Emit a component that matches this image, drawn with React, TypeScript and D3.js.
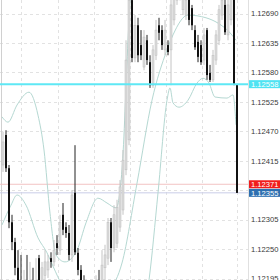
import React from 'react';
import * as d3 from 'd3';

const opens = [1.12407,1.12463,1.12401,1.12300,1.12263,1.12215,1.12164,1.12136,1.12155,1.12127,1.12164,1.12155,1.12233,1.12183,1.12201,1.12211,1.12233,1.12226,1.12261,1.12248,1.12314,1.12291,1.12280,1.12239,1.12355,1.12243,1.12211,1.12173,1.12155,1.12173,1.12145,1.12155,1.12183,1.12164,1.12215,1.12233,1.12300,1.12252,1.12261,1.12291,1.12323,1.12398,1.12454,1.12715,1.12607,1.12668,1.12631,1.12590,1.12640,1.12599,1.12556,1.12612,1.12668,1.12659,1.12622,1.12631,1.12622,1.12678,1.12715,1.12743,1.12697,1.12687,1.12725,1.12700,1.12659,1.12637,1.12631,1.12603,1.12659,1.12579,1.12566,1.12603,1.12640,1.12687,1.12706,1.12650,1.12678,1.12734,1.12558];
const highs = [1.12469,1.12472,1.12407,1.12314,1.12271,1.12248,1.12239,1.12211,1.12239,1.12226,1.12215,1.12233,1.12239,1.12226,1.12248,1.12239,1.12244,1.12267,1.12276,1.12314,1.12336,1.12300,1.12295,1.12360,1.12444,1.12252,1.12220,1.12201,1.12192,1.12188,1.12183,1.12201,1.12211,1.12248,1.12258,1.12308,1.12308,1.12332,1.12342,1.12379,1.12435,1.12640,1.12734,1.12734,1.12687,1.12682,1.12659,1.12659,1.12650,1.12612,1.12631,1.12678,1.12682,1.12668,1.12678,1.12640,1.12725,1.12753,1.12753,1.12753,1.12743,1.12725,1.12734,1.12706,1.12668,1.12650,1.12640,1.12663,1.12663,1.12594,1.12622,1.12659,1.12706,1.12734,1.12725,1.12725,1.12753,1.12753,1.12558];
const lows = [1.12394,1.12394,1.12289,1.12248,1.12201,1.12155,1.12117,1.12117,1.12108,1.12117,1.12136,1.12145,1.12173,1.12173,1.12183,1.12196,1.12215,1.12218,1.12239,1.12239,1.12276,1.12271,1.12229,1.12226,1.12239,1.12201,1.12155,1.12145,1.12145,1.12136,1.12136,1.12145,1.12155,1.12155,1.12192,1.12220,1.12226,1.12244,1.12252,1.12282,1.12314,1.12388,1.12444,1.12599,1.12599,1.12599,1.12603,1.12584,1.12594,1.12551,1.12551,1.12603,1.12640,1.12622,1.12612,1.12612,1.12556,1.12668,1.12706,1.12715,1.12687,1.12678,1.12668,1.12659,1.12622,1.12599,1.12594,1.12594,1.12566,1.12562,1.12562,1.12594,1.12631,1.12678,1.12650,1.12640,1.12668,1.12556,1.12355];
const closes = [1.12450,1.12401,1.12300,1.12263,1.12215,1.12164,1.12136,1.12155,1.12127,1.12164,1.12145,1.12183,1.12183,1.12215,1.12226,1.12226,1.12226,1.12248,1.12252,1.12300,1.12286,1.12280,1.12239,1.12351,1.12244,1.12211,1.12173,1.12155,1.12173,1.12145,1.12164,1.12183,1.12164,1.12220,1.12239,1.12300,1.12252,1.12314,1.12328,1.12366,1.12416,1.12603,1.12715,1.12607,1.12668,1.12612,1.12612,1.12646,1.12603,1.12556,1.12622,1.12659,1.12654,1.12631,1.12659,1.12618,1.12706,1.12734,1.12743,1.12725,1.12734,1.12715,1.12678,1.12668,1.12627,1.12609,1.12599,1.12650,1.12575,1.12566,1.12612,1.12650,1.12697,1.12715,1.12655,1.12706,1.12734,1.12558,1.12355];

const upperIdx = [0, 2, 5, 9, 12, 14, 16, 18, 21, 25, 28, 32, 35, 38, 40, 42, 44];
const upperVal = [1.12497,1.12487,1.12519,1.12543,1.12500,1.12435,1.12317,1.12239,1.12226,1.12248,1.12299,1.12345,1.12336,1.12327,1.12398,1.12640,1.12865];
const middleIdx = [0, 3, 5, 8, 12, 15, 17, 20, 26, 32, 36, 40, 45, 50, 55, 57, 62, 68, 72, 76, 78];
const middleVal = [1.12295,1.12332,1.12351,1.12332,1.12271,1.12243,1.12218,1.12183,1.12155,1.12155,1.12173,1.12224,1.12373,1.12528,1.12622,1.12650,1.12687,1.12682,1.12672,1.12654,1.12640];
const lowerIdx = [40, 46, 49, 52, 55, 56, 57, 59, 62, 65, 67, 69, 71, 75, 77, 78];
const lowerVal = [1.11875,1.12099,1.12192,1.12355,1.12528,1.12551,1.12523,1.12515,1.12528,1.12560,1.12569,1.12560,1.12534,1.12532,1.12538,1.12482];

const tickValues = [1.12690,1.12635,1.12580,1.12525,1.12470,1.12415,1.12360,1.12305,1.12250,1.12195];
const tickLabels = ['1.12690','1.12635','1.12580','1.12525','1.12470','1.12415','','1.12305','1.12250','1.12195'];
const gridIdx = [6.5, 18.5, 30.5, 42.5, 54.5, 66.5, 78.5];

const levelPrice = 1.12558;
const askPrice = 1.12371;
const bidPrice = 1.12355;

export default function App() {
  const W = 280, H = 280, plotR = 248;
  const n = closes.length;
  const y = d3.scaleLinear().domain([1.12195, 1.12690]).range([278.5, 13.5]);
  const x = d3.scaleLinear().domain([0, n - 1]).range([2, 236]);
  const clipId = 'plotclip';
  const band = (idx: number[], vals: number[]) =>
    d3.line<number>().x((_, k) => x(idx[k])).y((v) => y(v)).curve(d3.curveMonotoneX)(vals) || '';
  const font = "'Liberation Sans', Arial, sans-serif";
  const labelBox = (p: number, color: string, text: string) => {
    const cy = y(p);
    return (
      <g key={text}>
        <rect x={249} y={cy - 4} width={31} height={8} fill={color} />
        <text x={251} y={cy + 2.8} fontSize={7.6} fill="#fff" fontFamily={font}>{text}</text>
      </g>
    );
  };
  return (
    <svg width={W} height={H} style={{ position: 'fixed', left: 0, top: 0, background: '#fff' }}>
      <defs>
        <clipPath id={clipId}><rect x={0} y={0} width={plotR} height={H} /></clipPath>
      </defs>
      <rect x={0} y={0} width={W} height={H} fill="#fff" />
      <g clipPath={`url(#${clipId})`}>
        {tickValues.map((t) => (
          <line key={t} x1={0} x2={plotR} y1={Math.round(y(t)) + 0.5} y2={Math.round(y(t)) + 0.5} stroke="#e2e2e2" strokeDasharray="3,3" />
        ))}
        {gridIdx.map((g) => (
          <line key={g} x1={Math.round(x(g)) + 0.5} x2={Math.round(x(g)) + 0.5} y1={0} y2={H} stroke="#e2e2e2" strokeDasharray="3,3" />
        ))}
        <line x1={1.5} x2={1.5} y1={0} y2={H} stroke="#d0d0d0" />
        <line x1={0} x2={plotR} y1={y(askPrice)} y2={y(askPrice)} stroke="#f3c4c4" />
        <line x1={0} x2={plotR} y1={y(bidPrice)} y2={y(bidPrice)} stroke="#c9cde8" />
        <path d={band(upperIdx, upperVal)} fill="none" stroke="#b5d8d2" strokeWidth={1} />
        <path d={band(middleIdx, middleVal)} fill="none" stroke="#b5d8d2" strokeWidth={1} />
        <path d={band(lowerIdx, lowerVal)} fill="none" stroke="#b5d8d2" strokeWidth={1} />
        {closes.map((c, i) => {
          const o = opens[i];
          const up = c >= o;
          const cx = Math.round(x(i));
          const top = y(Math.max(o, c));
          const bot = y(Math.min(o, c));
          return (
            <g key={i}>
              <line x1={cx + 1} x2={cx + 1} y1={y(highs[i])} y2={y(lows[i])} stroke={up ? '#c4c4c4' : '#222'} strokeWidth={1} />
              <rect x={cx} y={top} width={2} height={Math.max(1, bot - top)} fill={up ? '#dcdcdc' : '#111'} stroke={up ? '#bdbdbd' : 'none'} strokeWidth={0.5} />
            </g>
          );
        })}
        <line x1={0} x2={plotR} y1={y(levelPrice)} y2={y(levelPrice)} stroke="#5ee8f5" strokeWidth={2} />
      </g>
      <line x1={plotR + 0.5} x2={plotR + 0.5} y1={0} y2={H} stroke="#e0e0e0" />
      {tickValues.map((t, k) => (
        <text key={t} x={251} y={y(t) + 2.8} fontSize={7.6} fill="#3a3a3a" fontFamily={font}>{tickLabels[k]}</text>
      ))}
      {labelBox(levelPrice, '#4fe3f2', '1.12558')}
      {labelBox(askPrice, '#f01c1c', '1.12371')}
      {labelBox(bidPrice, '#2d6fb0', '1.12355')}
    </svg>
  );
}
